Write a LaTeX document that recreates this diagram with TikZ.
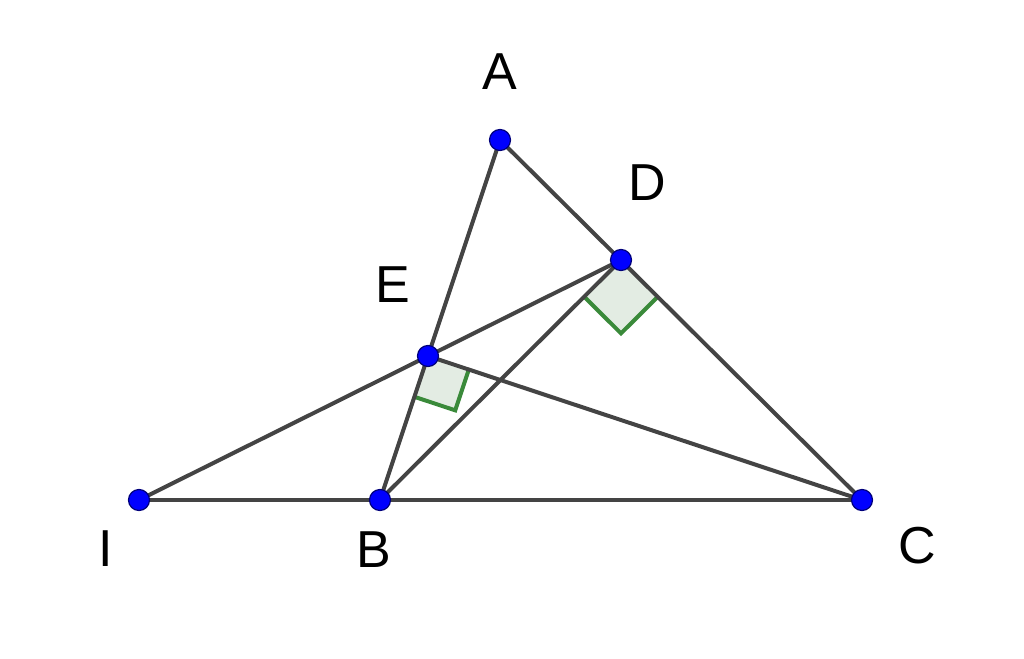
\documentclass[tikz,border=0pt]{standalone}
\usepackage{fontspec}
\setmainfont{Liberation Sans}
\usetikzlibrary{calc}
\definecolor{segcol}{HTML}{444444}
\definecolor{angcol}{HTML}{3A8A3A}
\definecolor{angfill}{HTML}{E3ECE3}
\definecolor{ptfill}{HTML}{0000FF}
\definecolor{ptdraw}{HTML}{00007A}
\tikzset{
  seg/.style={draw=segcol, line width=4pt, line cap=round},
  rightmark/.style={draw=angcol, line width=4pt, line join=miter},
  ptdot/.style={circle, fill=ptfill, draw=ptdraw, line width=1.2pt, minimum size=21pt, inner sep=0pt},
  lab/.style={inner sep=0pt, font=\fontsize{52}{60}\selectfont, text=black}
}
\begin{document}
\begin{tikzpicture}[x=1pt,y=-1pt]
\useasboundingbox (0,0) rectangle (1024,658);
\coordinate (A) at (500,140);
\coordinate (B) at (380,500);
\coordinate (C) at (862,500);
\coordinate (D) at (621,260);
\coordinate (E) at (428,356);
\coordinate (I) at (139,500);
% right angle marker corners
\coordinate (Db) at ($(D)!52pt!(B)$);
\coordinate (Dc) at ($(D)!52pt!(C)$);
\coordinate (Dm) at ($(Db)+(Dc)-(D)$);
\coordinate (Eb) at ($(E)!43pt!(B)$);
\coordinate (Ec) at ($(E)!43pt!(C)$);
\coordinate (Em) at ($(Eb)+(Ec)-(E)$);
\fill[angfill] (D) -- (Db) -- (Dm) -- (Dc) -- cycle;
\draw[rightmark] (Db) -- (Dm) -- (Dc);
\fill[angfill] (E) -- (Eb) -- (Em) -- (Ec) -- cycle;
\draw[rightmark] (Eb) -- (Em) -- (Ec);
% segments
\draw[seg] (A) -- (B);
\draw[seg] (A) -- (C);
\draw[seg] (I) -- (C);
\draw[seg] (I) -- (D);
\draw[seg] (B) -- (D);
\draw[seg] (E) -- (C);
% points
\node[ptdot] (pA) at (A) {};
\node[ptdot] (pB) at (B) {};
\node[ptdot] (pC) at (C) {};
\node[ptdot] (pD) at (D) {};
\node[ptdot] (pE) at (E) {};
\node[ptdot] (pI) at (I) {};
% labels
\node[lab] (lA) at (500,72) {A};
\node[lab] (lD) at (647,183) {D};
\node[lab] (lE) at (393,285) {E};
\node[lab] (lI) at (106,549) {I};
\node[lab] (lB) at (374,550) {B};
\node[lab] (lC) at (917,546) {C};
\end{tikzpicture}
\end{document}
